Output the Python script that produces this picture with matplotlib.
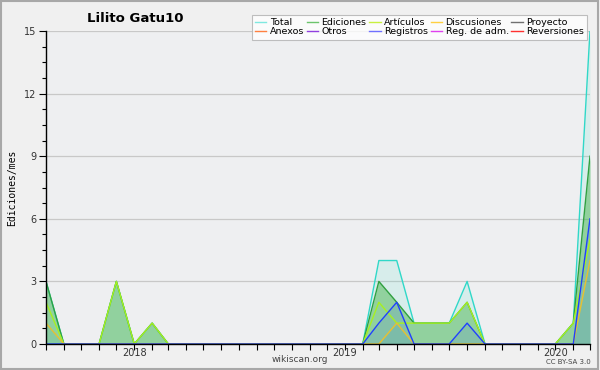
import pandas as pd
import matplotlib
matplotlib.use("Agg")
import matplotlib.pyplot as plt
import matplotlib.dates as mdates
from matplotlib.ticker import MultipleLocator
from matplotlib.lines import Line2D

# monthly edits, Aug 2017 .. Mar 2020
months = pd.date_range("2017-08-01", periods=32, freq="MS")

total       = [3,0,0,0,3,0,1,0, 0,0,0,0,0,0,0,0,0,0, 0,4,4,1,1,1,3,0, 0,0,0,0,1,15]
ediciones   = [3,0,0,0,3,0,1,0, 0,0,0,0,0,0,0,0,0,0, 0,3,2,1,1,1,2,0, 0,0,0,0,1,9]
articulos   = [2,0,0,0,3,0,1,0, 0,0,0,0,0,0,0,0,0,0, 0,2,1,1,1,1,2,0, 0,0,0,0,1,5]
discusiones = [1,0,0,0,0,0,0,0, 0,0,0,0,0,0,0,0,0,0, 0,0,1,0,0,0,0,0, 0,0,0,0,0,4]
registros   = [0,0,0,0,0,0,0,0, 0,0,0,0,0,0,0,0,0,0, 0,1,2,0,0,0,1,0, 0,0,0,0,0,6]

legend_names = ["Total", "Ediciones", "Artículos", "Discusiones", "Proyecto",
                "Anexos", "Otros", "Registros", "Reg. de adm.", "Reversiones"]
legend_colors = ["#7fe8e0", "#6cc46c", "#c8f040", "#ffd040", "#707070",
                 "#ff8040", "#9040e0", "#7070ff", "#e040f0", "#ff3030"]

fig = plt.figure(figsize=(6, 3.7), dpi=100, facecolor="#f0f0f0")
fig.patches.append(plt.Rectangle((0.002, 0.003), 0.995, 0.994, transform=fig.transFigure,
                                 fill=False, edgecolor="#a8a8a8", lw=1.5))
ax = fig.add_axes([46/600, 26/370, 544/600, 313/370], facecolor="#eeeff1")

x = months
ax.fill_between(x, total, color="#40e0c8", alpha=0.13, lw=0)
ax.fill_between(x, ediciones, color="#3cb040", alpha=0.45, lw=0)
ax.fill_between(x, registros, color="#3050ff", alpha=0.12, lw=0)
ax.fill_between(x, discusiones, color="#40a0b0", alpha=0.12, lw=0)

ax.plot(x, total, color="#30d8c8", lw=1)
ax.plot(x, ediciones, color="#30a040", lw=1)
ax.plot(x, articulos, color="#a8f020", lw=1)
ax.plot(x, discusiones, color="#e8c030", lw=1)
ax.plot(x, registros, color="#2040ff", lw=1)

ax.set_xlim(months[0], months[-1])
ax.set_ylim(0, 15)
ax.yaxis.set_major_locator(MultipleLocator(3))
ax.yaxis.set_minor_locator(MultipleLocator(0.75))
ax.xaxis.set_major_locator(mdates.YearLocator())
ax.xaxis.set_major_formatter(mdates.DateFormatter("%Y"))
ax.xaxis.set_minor_locator(mdates.MonthLocator())
ax.grid(axis="y", color="#c8c8c8", lw=0.9)
ax.set_axisbelow(True)

for s in ["top", "right"]:
    ax.spines[s].set_visible(False)
for s in ["left", "bottom"]:
    ax.spines[s].set_color("black")
    ax.spines[s].set_linewidth(1)

ax.tick_params(axis="y", which="major", labelsize=7, colors="black",
               labelcolor="#333333", length=5, width=0.8, pad=2)
ax.tick_params(axis="y", which="minor", length=3, width=0.8, color="black")
ax.tick_params(axis="x", which="both", length=4, width=0.8, color="black",
               labelsize=7, labelcolor="#333333", pad=-1)

ax.set_ylabel("Ediciones/mes", family="DejaVu Sans Mono", fontsize=7, labelpad=5)

fig.text(135/600, 1 - 18/370, "Lilito Gatu10", fontsize=9.5, fontweight="bold",
         ha="center", va="center")
fig.text(300/600, 1 - 360/370, "wikiscan.org", fontsize=6.5, color="#444444",
         ha="center", va="center")
fig.text(591/600, 1 - 362/370, "CC BY-SA 3.0", fontsize=5, color="#444444",
         ha="right", va="center")

handles = [Line2D([], [], color=c, lw=1) for c in legend_colors]
order = [0, 5, 1, 6, 2, 7, 3, 8, 4, 9]
leg = fig.legend([handles[i] for i in order], [legend_names[i] for i in order],
                 ncol=5, fontsize=6.8, loc="upper right",
                 bbox_to_anchor=(592/600, 1 - 10/370),
                 frameon=True, fancybox=False, shadow=False,
                 handlelength=1.2, handletextpad=0.35, columnspacing=0.3,
                 labelspacing=0.05, borderpad=0.35)
leg.get_frame().set_edgecolor("#b0b0b0")
leg.get_frame().set_facecolor("white")
leg.get_frame().set_linewidth(0.8)

fig.savefig("out.png", dpi=100, facecolor=fig.get_facecolor())
